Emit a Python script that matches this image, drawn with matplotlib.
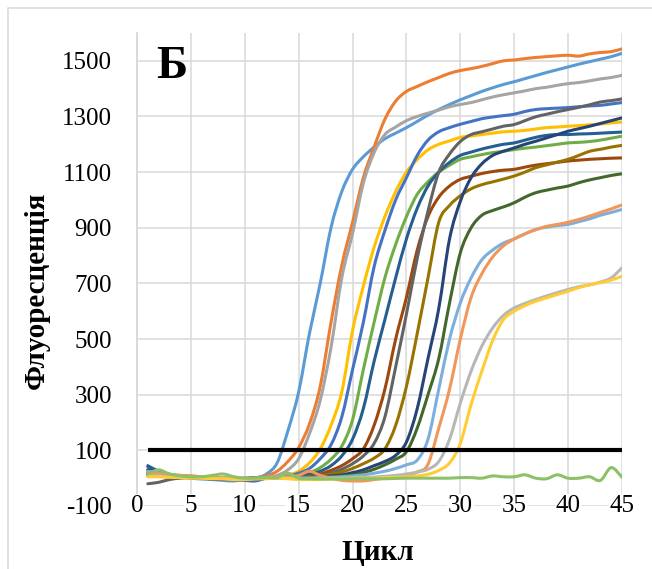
import matplotlib
matplotlib.use("Agg")
import matplotlib.pyplot as plt
from matplotlib.path import Path
from matplotlib.patches import PathPatch, Rectangle

# ---- data: fluorescence per amplification cycle ----
cycles = list(range(1, 46))

s_blue_lt = [20, 15, 10, 5, 0, -3, -5, -8, -10, -5, 0, 15, 55, 170, 310,
             520, 700, 900, 1030, 1110, 1155, 1190, 1220, 1240, 1260, 1282, 1305, 1325, 1343, 1360,
             1375, 1390, 1403, 1415, 1425, 1436, 1447, 1458, 1468, 1478, 1488, 1497, 1506, 1515, 1527]
s_orange = [10, 15, 12, 10, 8, 5, 3, 0, -2, 0, 2, 8, 25, 60, 110,
            195, 330, 560, 765, 920, 1080, 1190, 1290, 1355, 1390, 1408, 1425, 1440, 1455, 1465,
            1472, 1480, 1490, 1500, 1503, 1508, 1512, 1515, 1518, 1520, 1517, 1525, 1530, 1533, 1543]
s_gray = [25, 15, 10, 5, 5, 2, 0, 0, -3, -2, 0, 3, 10, 30, 70,
          160, 280, 470, 720, 880, 1060, 1170, 1235, 1262, 1285, 1300, 1312, 1323, 1335, 1343,
          1350, 1360, 1370, 1378, 1385, 1392, 1400, 1405, 1412, 1418, 1422, 1428, 1435, 1440, 1448]
s_gold = [15, 12, 10, 8, 5, 3, 2, 0, 0, -3, -2, 0, 3, 10, 25,
          55, 105, 190, 310, 530, 690, 830, 940, 1030, 1100, 1145, 1180, 1200, 1212, 1225,
          1230, 1235, 1240, 1245, 1247, 1250, 1255, 1260, 1262, 1265, 1267, 1270, 1273, 1277, 1280]
s_blue = [40, 20, 10, 5, 3, 0, -2, -5, -5, -8, -10, 0, 3, 8, 18,
          35, 70, 120, 220, 390, 560, 760, 890, 1000, 1080, 1160, 1215, 1245, 1260, 1272,
          1282, 1292, 1298, 1303, 1308, 1318, 1325, 1328, 1330, 1332, 1335, 1338, 1340, 1345, 1350]
s_green = [20, 25, 15, 8, 5, 3, 0, 0, -2, -3, 0, 0, 2, 5, 10,
           20, 38, 68, 115, 210, 390, 560, 720, 840, 940, 1020, 1065, 1100, 1125, 1146,
           1155, 1163, 1170, 1175, 1181, 1186, 1190, 1195, 1200, 1205, 1207, 1210, 1215, 1222, 1229]
s_teal = [45, 25, 12, 5, 2, 0, -2, -3, -5, -3, -5, 0, 2, 5, 8,
          14, 25, 45, 80, 140, 250, 420, 570, 720, 860, 970, 1050, 1100, 1135, 1160,
          1172, 1183, 1192, 1200, 1205, 1215, 1225, 1232, 1235, 1235, 1237, 1238, 1240, 1242, 1244]
s_brown = [15, 10, 8, 5, 3, 2, 0, 0, -2, -2, 0, 0, 0, 2, 4,
           8, 15, 28, 45, 70, 105, 190, 320, 500, 650, 820, 940, 1010, 1050, 1074,
           1085, 1095, 1102, 1107, 1110, 1118, 1125, 1130, 1135, 1140, 1143, 1146, 1148, 1150, 1151]
s_gray_dk = [-20, -15, -5, 0, 2, 2, 0, 0, -2, 0, 0, 0, 0, 2, 3,
             6, 10, 18, 32, 52, 80, 125, 220, 400, 590, 790, 960, 1100, 1165, 1210,
             1235, 1245, 1255, 1265, 1271, 1285, 1299, 1308, 1317, 1325, 1333, 1342, 1352, 1357, 1363]
s_gold_dk = [10, 8, 5, 3, 2, 0, 0, -2, -3, -2, 0, 0, 0, 0, 2,
             4, 8, 14, 22, 35, 52, 72, 105, 190, 330, 520, 720, 920, 980, 1015,
             1040, 1055, 1065, 1075, 1086, 1100, 1116, 1126, 1136, 1146, 1160, 1175, 1182, 1190, 1196]
s_navy = [30, 20, 10, 5, 2, 0, -2, -3, -3, -2, 0, 0, 0, 0, 2,
          3, 5, 8, 12, 20, 30, 45, 60, 82, 130, 250, 430, 610, 860, 995,
          1080, 1130, 1160, 1175, 1187, 1200, 1211, 1223, 1235, 1247, 1256, 1265, 1275, 1285, 1295]
s_green_dk = [15, 10, 8, 5, 2, 0, 0, -2, -3, -2, 0, 0, 0, 0, 0,
              2, 3, 5, 8, 12, 20, 32, 48, 68, 95, 180, 300, 430, 630, 810,
              900, 945, 962, 975, 990, 1010, 1026, 1035, 1043, 1050, 1062, 1072, 1080, 1088, 1094]
s_blue_pale = [25, 20, 12, 8, 5, 2, 0, 0, -2, -3, -2, 0, 0, 0, 0,
               0, 2, 3, 5, 8, 12, 18, 25, 35, 48, 65, 140, 320, 500, 630,
               720, 785, 820, 845, 860, 878, 894, 902, 908, 912, 922, 932, 945, 955, 966]
s_orange_lt = [20, 15, 12, 10, 8, 5, 3, 2, 0, -2, 0, 2, 5, 5, 10,
               25, 10, 0, -8, -10, -10, -5, 0, 5, 10, 22, 50, 180, 320, 500,
               650, 735, 795, 835, 860, 878, 893, 905, 912, 920, 930, 942, 955, 968, 982]
s_gray_lt = [10, 8, 5, 3, 2, 0, 0, 0, -2, -2, 0, 0, 0, 0, 0,
             0, 0, 0, 0, 0, 2, 4, 7, 10, 15, 22, 32, 60, 140, 270,
             385, 475, 540, 585, 612, 628, 642, 655, 667, 678, 688, 695, 705, 720, 756]
s_gold_lt = [5, 5, 3, 2, 0, 0, -2, -3, -5, -5, -3, -2, 0, -2, -5,
             -5, -5, -3, -2, 0, 0, 0, 2, 3, 5, 8, 14, 28, 55, 125,
             265, 385, 495, 570, 600, 620, 636, 648, 660, 672, 685, 695, 703, 712, 726]
s_negative = [15, 30, 15, 8, 5, 5, 10, 15, 5, 0, 0, 2, 2, 18, 0,
              -2, -3, -3, -3, -2, -2, -2, -2, -1, 0, 0, 0, 0, 0, 2,
              2, 0, 8, 5, 5, 12, 0, -2, 12, 0, 0, 5, -8, 38, 3]

threshold = 100

series = [
    (s_blue_lt, "#5B9BD5"), (s_orange, "#ED7D31"), (s_gray, "#A5A5A5"),
    (s_gold, "#FFC000"), (s_blue, "#4472C4"), (s_green, "#70AD47"),
    (s_teal, "#255E91"), (s_brown, "#9E480E"), (s_gray_dk, "#636363"),
    (s_gold_dk, "#997300"), (s_navy, "#264478"), (s_green_dk, "#43682B"),
    (s_blue_pale, "#7CAFDD"), (s_orange_lt, "#F1975A"), (s_gray_lt, "#B7B7B7"),
    (s_gold_lt, "#FFCD33"), (s_negative, "#8CC168"),
]

x_ticks = list(range(0, 46, 5))
y_ticks = list(range(-100, 1501, 200))


def smooth_path(xs, ys):
    """Catmull-Rom style cubic Bezier path through the given points."""
    n = len(xs)
    verts = [(xs[0], ys[0])]
    codes = [Path.MOVETO]
    for i in range(n - 1):
        x0, y0 = (xs[i - 1], ys[i - 1]) if i > 0 else (xs[i], ys[i])
        x1, y1 = xs[i], ys[i]
        x2, y2 = xs[i + 1], ys[i + 1]
        x3, y3 = (xs[i + 2], ys[i + 2]) if i + 2 < n else (x2, y2)
        c1 = (x1 + (x2 - x0) / 6.0, y1 + (y2 - y0) / 6.0)
        c2 = (x2 - (x3 - x1) / 6.0, y2 - (y3 - y1) / 6.0)
        verts += [c1, c2, (x2, y2)]
        codes += [Path.CURVE4] * 3
    return Path(verts, codes)


plt.rcParams["font.family"] = ["Liberation Serif", "DejaVu Serif"]
plt.rcParams["axes.unicode_minus"] = False

fig = plt.figure(figsize=(6.52, 5.69), dpi=100)
ax = fig.add_axes([137 / 652, 1 - 506 / 569, 485 / 652, 473 / 569])

for vals, col in series:
    patch = PathPatch(smooth_path(cycles, vals), fill=False, edgecolor=col,
                      lw=2.2, capstyle="round", joinstyle="round", zorder=2)
    ax.add_patch(patch)

ax.plot(cycles, [threshold] * len(cycles), color="black", lw=3.0,
        solid_capstyle="butt", zorder=3)

ax.set_xlim(0, 45)
ax.set_ylim(-100, 1600)
ax.set_xticks(x_ticks)
ax.set_yticks(y_ticks)
ax.set_axisbelow(True)
ax.grid(True, color="#D9D9D9", lw=1.1)
ax.xaxis.set_zorder(0.6)

for side in ("top", "right", "bottom"):
    ax.spines[side].set_visible(False)
ax.spines["left"].set_color("#CFCFCF")
ax.spines["left"].set_linewidth(1.1)
ax.spines["left"].set_zorder(0.4)

ax.tick_params(axis="both", length=0, labelsize=18, colors="black")
ax.tick_params(axis="x", pad=-8)
ax.tick_params(axis="y", pad=18)
for lab in ax.get_xticklabels():
    lab.set_bbox(dict(facecolor="white", edgecolor="none", pad=0.5))

ax.text(0.039, 0.905, "Б", transform=ax.transAxes, fontsize=34,
        fontweight="bold", ha="left", va="baseline")

fig.text(36 / 652, 1 - 290 / 569, "Флуоресценція", rotation=90, fontsize=21,
         fontweight="bold", ha="center", va="center")
fig.text(378 / 652, 1 - 560 / 569, "Цикл", fontsize=21, fontweight="bold",
         ha="center", va="baseline")

fig.add_artist(Rectangle((8 / 652, -0.1), 2.0, 1.1 - 8 / 569,
                         transform=fig.transFigure, fill=False,
                         edgecolor="#D9D9D9", lw=1.1))

fig.savefig("out.png", dpi=100)
